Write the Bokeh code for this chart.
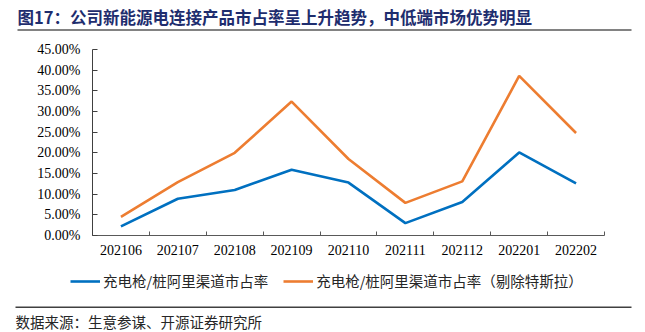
from bokeh.plotting import figure
from bokeh.layouts import column
from bokeh.models import (ColumnDataSource, Range1d, FixedTicker, PrintfTickFormatter,
                          Label, Legend, LegendItem, BoxAnnotation)
from bokeh.embed import file_html
from bokeh.resources import INLINE

# ---- data ----
months = ["202106", "202107", "202108", "202109", "202110",
          "202111", "202112", "202201", "202202"]
share_all = [2.2, 8.9, 11.0, 15.9, 12.8, 3.0, 8.1, 20.1, 12.6]
share_ex_tesla = [4.5, 12.9, 20.0, 32.4, 18.5, 7.9, 13.1, 38.6, 24.8]
y_ticks = [0, 5, 10, 15, 20, 25, 30, 35, 40, 45]
series_names = ["充电枪/桩阿里渠道市占率", "充电枪/桩阿里渠道市占率（剔除特斯拉）"]
title_text = "图17：公司新能源电连接产品市占率呈上升趋势，中低端市场优势明显"
source_text = "数据来源：生意参谋、开源证券研究所"

BLUE = "#0070C0"
ORANGE = "#ED7D31"
CJK = "Noto Sans CJK SC"
SERIF = "Liberation Serif"
W = 645


def blank(height):
    f = figure(width=W, height=height, output_backend="svg", toolbar_location=None,
               x_range=Range1d(0, 1), y_range=Range1d(0, 1),
               x_axis_location=None, y_axis_location=None,
               min_border=0, min_border_left=0, min_border_right=0,
               min_border_top=0, min_border_bottom=0, frame_align=False)
    f.outline_line_color = None
    f.xgrid.visible = False
    f.ygrid.visible = False
    f.background_fill_color = "white"
    f.border_fill_color = "white"
    return f


def hline(f, left, right, y, thick, color):
    f.add_layout(BoxAnnotation(left=left, right=right, bottom=y - thick / 2, top=y + thick / 2,
                               left_units="screen", right_units="screen",
                               bottom_units="screen", top_units="screen",
                               fill_color=color, fill_alpha=1, line_color=None))


# ---- header (canvas y 0..40) ----
head = blank(40)
head.add_layout(Label(x=17, y=24, x_units="screen", y_units="screen", text=title_text,
                      text_font=CJK, text_font_size="16.5px", text_font_style="bold",
                      text_color="#1E2D6E", text_baseline="middle", text_align="left"))
hline(head, 17, 631, 10.5, 1.5, "#595959")

# ---- main chart (canvas y 40..270) ----
xs = [i + 0.5 for i in range(len(months))]
src = ColumnDataSource(dict(x=xs, a=share_all, b=share_ex_tesla))

p = figure(width=W, height=230, output_backend="svg", toolbar_location=None,
           x_range=Range1d(0, len(months)), y_range=Range1d(0, 45),
           min_border_left=92, min_border_right=41, min_border_top=9,
           min_border_bottom=35, frame_align=False)
p.outline_line_color = None
p.background_fill_color = "white"
p.border_fill_color = "white"
p.xgrid.visible = False
p.ygrid.visible = False

p.line("x", "a", source=src, line_color=BLUE, line_width=2.6)
p.line("x", "b", source=src, line_color=ORANGE, line_width=2.6)

xa = p.xaxis[0]
xa.ticker = FixedTicker(ticks=xs, minor_ticks=list(range(len(months) + 1)))
xa.major_label_overrides = {x: m for x, m in zip(xs, months)}
xa.major_tick_in = 0
xa.major_tick_out = 0
xa.minor_tick_in = 4
xa.minor_tick_out = 0
xa.minor_tick_line_color = "#595959"
xa.axis_line_color = "#595959"
xa.major_label_standoff = 9
xa.major_label_text_font = SERIF
xa.major_label_text_font_size = "14px"
xa.major_label_text_color = "#000000"

ya = p.yaxis[0]
ya.ticker = FixedTicker(ticks=y_ticks)
ya.formatter = PrintfTickFormatter(format="%.2f%%")
ya.major_tick_in = 5
ya.major_tick_out = 0
ya.minor_tick_line_color = None
ya.axis_line_color = "#404040"
ya.major_tick_line_color = "#404040"
ya.major_label_standoff = 12
ya.major_label_text_font = SERIF
ya.major_label_text_font_size = "14px"
ya.major_label_text_color = "#000000"

# ---- footer (canvas y 270..332): legend, separator, source ----
foot = blank(62)
nan = float("nan")
k1 = foot.line([nan], [nan], line_color=BLUE, line_width=2.6)
k2 = foot.line([nan], [nan], line_color=ORANGE, line_width=2.6)
legend = Legend(items=[LegendItem(label=series_names[0], renderers=[k1]),
                       LegendItem(label=series_names[1], renderers=[k2])],
                orientation="horizontal", location=(70, 41),
                glyph_width=30, glyph_height=16, label_height=16,
                label_standoff=3, spacing=15, padding=0, margin=0,
                border_line_color=None, background_fill_alpha=0,
                label_text_font=CJK, label_text_font_size="14.5px",
                label_text_color="#262626")
foot.add_layout(legend, "center")
hline(foot, 15, 631, 25.3, 1.4, "#404040")
foot.add_layout(Label(x=15, y=11, x_units="screen", y_units="screen", text=source_text,
                      text_font=CJK, text_font_size="14.5px", text_color="#262626",
                      text_baseline="middle", text_align="left"))

layout = column(head, p, foot, spacing=0)
open("out.html", "w").write(file_html(layout, INLINE))
